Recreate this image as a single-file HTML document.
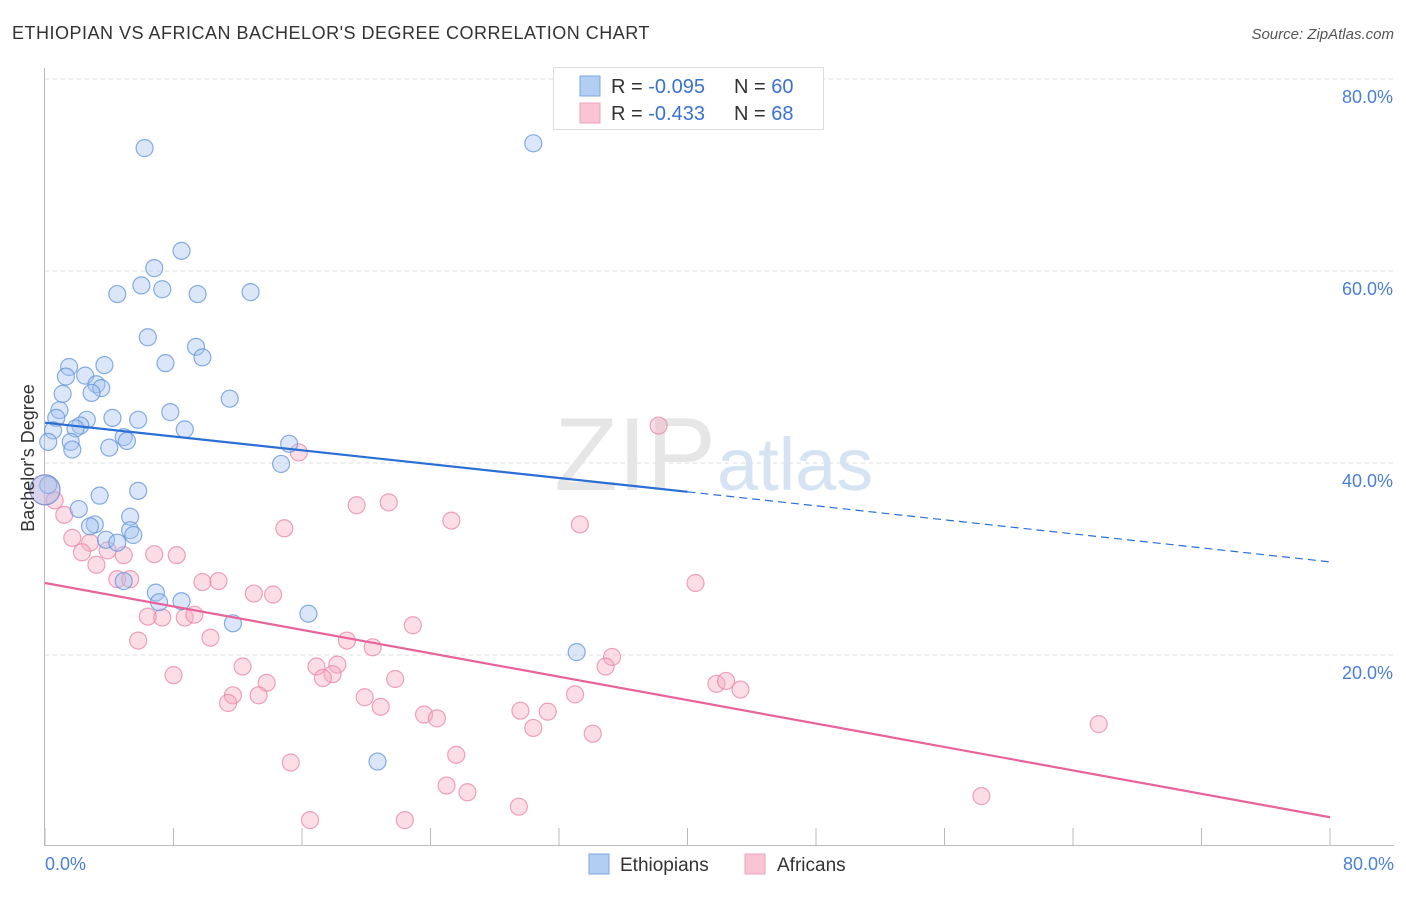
<!DOCTYPE html>
<html><head><meta charset="utf-8"><style>
body{margin:0;background:#fff;font-family:"Liberation Sans",sans-serif;}
svg text{font-family:"Liberation Sans",sans-serif;}
</style></head><body>
<svg id="chart" width="1406" height="892">
<text x="12" y="39" font-size="18" fill="#333" letter-spacing="0.5">ETHIOPIAN VS AFRICAN BACHELOR'S DEGREE CORRELATION CHART</text>
<text x="1394" y="39" font-size="15" fill="#555" font-style="italic" text-anchor="end">Source: ZipAtlas.com</text>
<g id="grid"></g>
<text x="716" y="490" font-size="104" fill="#e6e6e6" text-anchor="end" font-family="Liberation Serif">ZIP</text>
<text x="717" y="490" font-size="74" fill="#d5e3f3">atlas</text>
<g id="marks"></g>
<text x="34" y="458" font-size="18" fill="#333" text-anchor="middle" transform="rotate(-90 34 458)">Bachelor's Degree</text>
<text x="45" y="870" font-size="18" fill="#4a7fd4">0.0%</text>
<text x="1394" y="870" font-size="18" fill="#4a7fd4" text-anchor="end">80.0%</text>
<g>
<rect x="553.5" y="67.5" width="270" height="62" fill="#fff" stroke="#ddd"/>
<rect x="580" y="76" width="20" height="20" fill="#b3cef3" stroke="#7ea7e0"/>
<rect x="580" y="103" width="20" height="20" fill="#f9c4d4" stroke="#eea0ba"/>
<text x="611" y="93" font-size="20" fill="#333">R = <tspan fill="#3a72d0">-0.095</tspan></text>
<text x="734" y="93" font-size="20" fill="#333">N = <tspan fill="#3a72d0">60</tspan></text>
<text x="611" y="120" font-size="20" fill="#333">R = <tspan fill="#3a72d0"> -0.433</tspan></text>
<text x="734" y="120" font-size="20" fill="#333">N = <tspan fill="#3a72d0"> 68</tspan></text>
</g>
<g>
<rect x="589" y="854" width="20" height="20" fill="#b3cef3" stroke="#7ea7e0"/>
<text x="620" y="871" font-size="19" fill="#333">Ethiopians</text>
<rect x="745" y="854" width="20" height="20" fill="#f9c4d4" stroke="#eea0ba"/>
<text x="777" y="871" font-size="19" fill="#333">Africans</text>
</g>
</svg>
<script>
const yTicks=[20,40,60,80];
const yTickLabels=["20.0%","40.0%","60.0%","80.0%"];
const xTicks=[0,8,16,24,32,40,48,56,64,72,80];
const ethX=[6.2,30.4,8.5,6.8,4.5,6.0,7.3,9.5,12.8,6.4,9.4,9.8,7.5,1.5,3.7,1.3,2.5,3.2,3.5,2.9,1.1,0.9,0.7,2.6,4.2,5.8,7.8,11.5,2.2,1.9,0.5,4.9,5.1,8.7,1.6,4.0,1.7,0.2,15.2,14.7,5.8,3.4,2.1,3.1,2.8,5.3,5.3,5.5,3.8,4.5,4.9,6.9,7.1,8.5,11.7,16.4,33.1,20.7,0.2,0.0];
const ethY=[72.8,73.3,62.1,60.3,57.6,58.5,58.1,57.6,57.8,53.1,52.1,51.0,50.4,50.0,50.2,49.0,49.1,48.2,47.8,47.3,47.2,45.5,44.7,44.5,44.7,44.5,45.3,46.7,43.9,43.6,43.4,42.7,42.3,43.5,42.2,41.6,41.4,42.2,42.0,39.9,37.1,36.6,35.2,33.6,33.4,34.4,33.0,32.5,32.0,31.7,27.7,26.5,25.5,25.6,23.3,24.3,20.3,8.9,37.7,37.2];
const afrX=[38.2,15.8,0.0,0.6,1.2,19.4,21.4,25.3,33.3,14.9,1.7,2.8,2.3,3.9,4.9,6.8,8.2,3.2,4.5,5.3,9.8,10.8,40.5,13.0,14.2,6.4,7.3,8.7,9.3,22.9,5.8,10.3,18.8,20.4,35.3,34.9,12.3,16.9,18.2,8.0,17.9,17.3,21.8,13.8,41.8,42.4,43.3,11.7,13.3,19.9,11.4,33.0,20.9,23.6,24.4,29.6,31.3,30.4,65.6,34.1,25.6,15.3,25.0,26.3,29.5,16.5,22.4,58.3];
const afrY=[43.9,41.1,37.2,36.1,34.6,35.6,35.9,34.0,33.6,33.2,32.2,31.7,30.7,30.9,30.4,30.5,30.4,29.4,27.9,27.9,27.6,27.7,27.5,26.4,26.3,24.0,23.9,23.9,24.2,23.1,21.5,21.8,21.5,20.8,19.8,18.8,18.8,18.8,19.0,17.9,18.0,17.6,17.5,17.1,17.0,17.3,16.4,15.8,15.8,15.6,15.0,15.9,14.6,13.8,13.4,14.2,14.1,12.4,12.8,11.8,9.6,8.8,6.4,5.7,4.2,2.8,2.8,5.3];
const ethTrend=[44.2,37.0,29.7];
const afrTrend=[27.5,3.1];
const NS="http://www.w3.org/2000/svg";
const X=v=>45+v*(1285/80), Y=v=>847-v*9.6;
function mk(tag,attrs,parent){const e=document.createElementNS(NS,tag);for(const k in attrs)e.setAttribute(k,attrs[k]);parent.appendChild(e);return e;}
const grid=document.getElementById('grid'), marks=document.getElementById('marks');
yTicks.forEach((t,i)=>{
 const l=mk('line',{x1:45,x2:1394,y1:Y(t),y2:Y(t),stroke:'#ddd','stroke-dasharray':'4,4'},grid);
 
 
 const tx=mk('text',{x:1393,y:Y(t)+24,'font-size':18,fill:'#4a7fd4','text-anchor':'end'},grid);tx.textContent=yTickLabels[i];
 
 
});
const ax=mk('line',{x1:45,x2:1394,y1:845.5,y2:845.5,stroke:'#bbb'},grid);


const ay=mk('line',{x1:44.5,x2:44.5,y1:68,y2:846,stroke:'#bbb'},grid);


xTicks.forEach(t=>{const l=mk('line',{x1:X(t),x2:X(t),y1:828,y2:846,stroke:'#bbb'},grid);
 
 });
function pts(xs,ys,fill,stroke,name){xs.forEach((x,i)=>{
 const big=(x===0&&(ys[i]===37.2));
 const c=mk('circle',{cx:X(x),cy:Y(ys[i]),r:big?15:8.5,fill:fill,'fill-opacity':0.4,stroke:stroke,'stroke-width':1.2,'stroke-opacity':0.75},marks);
 
 });}
pts(afrX,afrY,'#f4a9c1','#e884a8','african-point');
pts(ethX,ethY,'#a4c4ef','#5f93da','ethiopian-point');
let l=mk('line',{x1:X(0),y1:Y(ethTrend[0]),x2:X(40),y2:Y(ethTrend[1]),stroke:'#2a6fd6','stroke-width':2.2},marks);


l=mk('line',{x1:X(40),y1:Y(ethTrend[1]),x2:X(80),y2:Y(ethTrend[2]),stroke:'#2a6fd6','stroke-width':1.2,'stroke-dasharray':'8,5'},marks);


l=mk('line',{x1:X(0),y1:Y(afrTrend[0]),x2:X(80),y2:Y(afrTrend[1]),stroke:'#e8639a','stroke-width':2.2},marks);


</script>
</body></html>
